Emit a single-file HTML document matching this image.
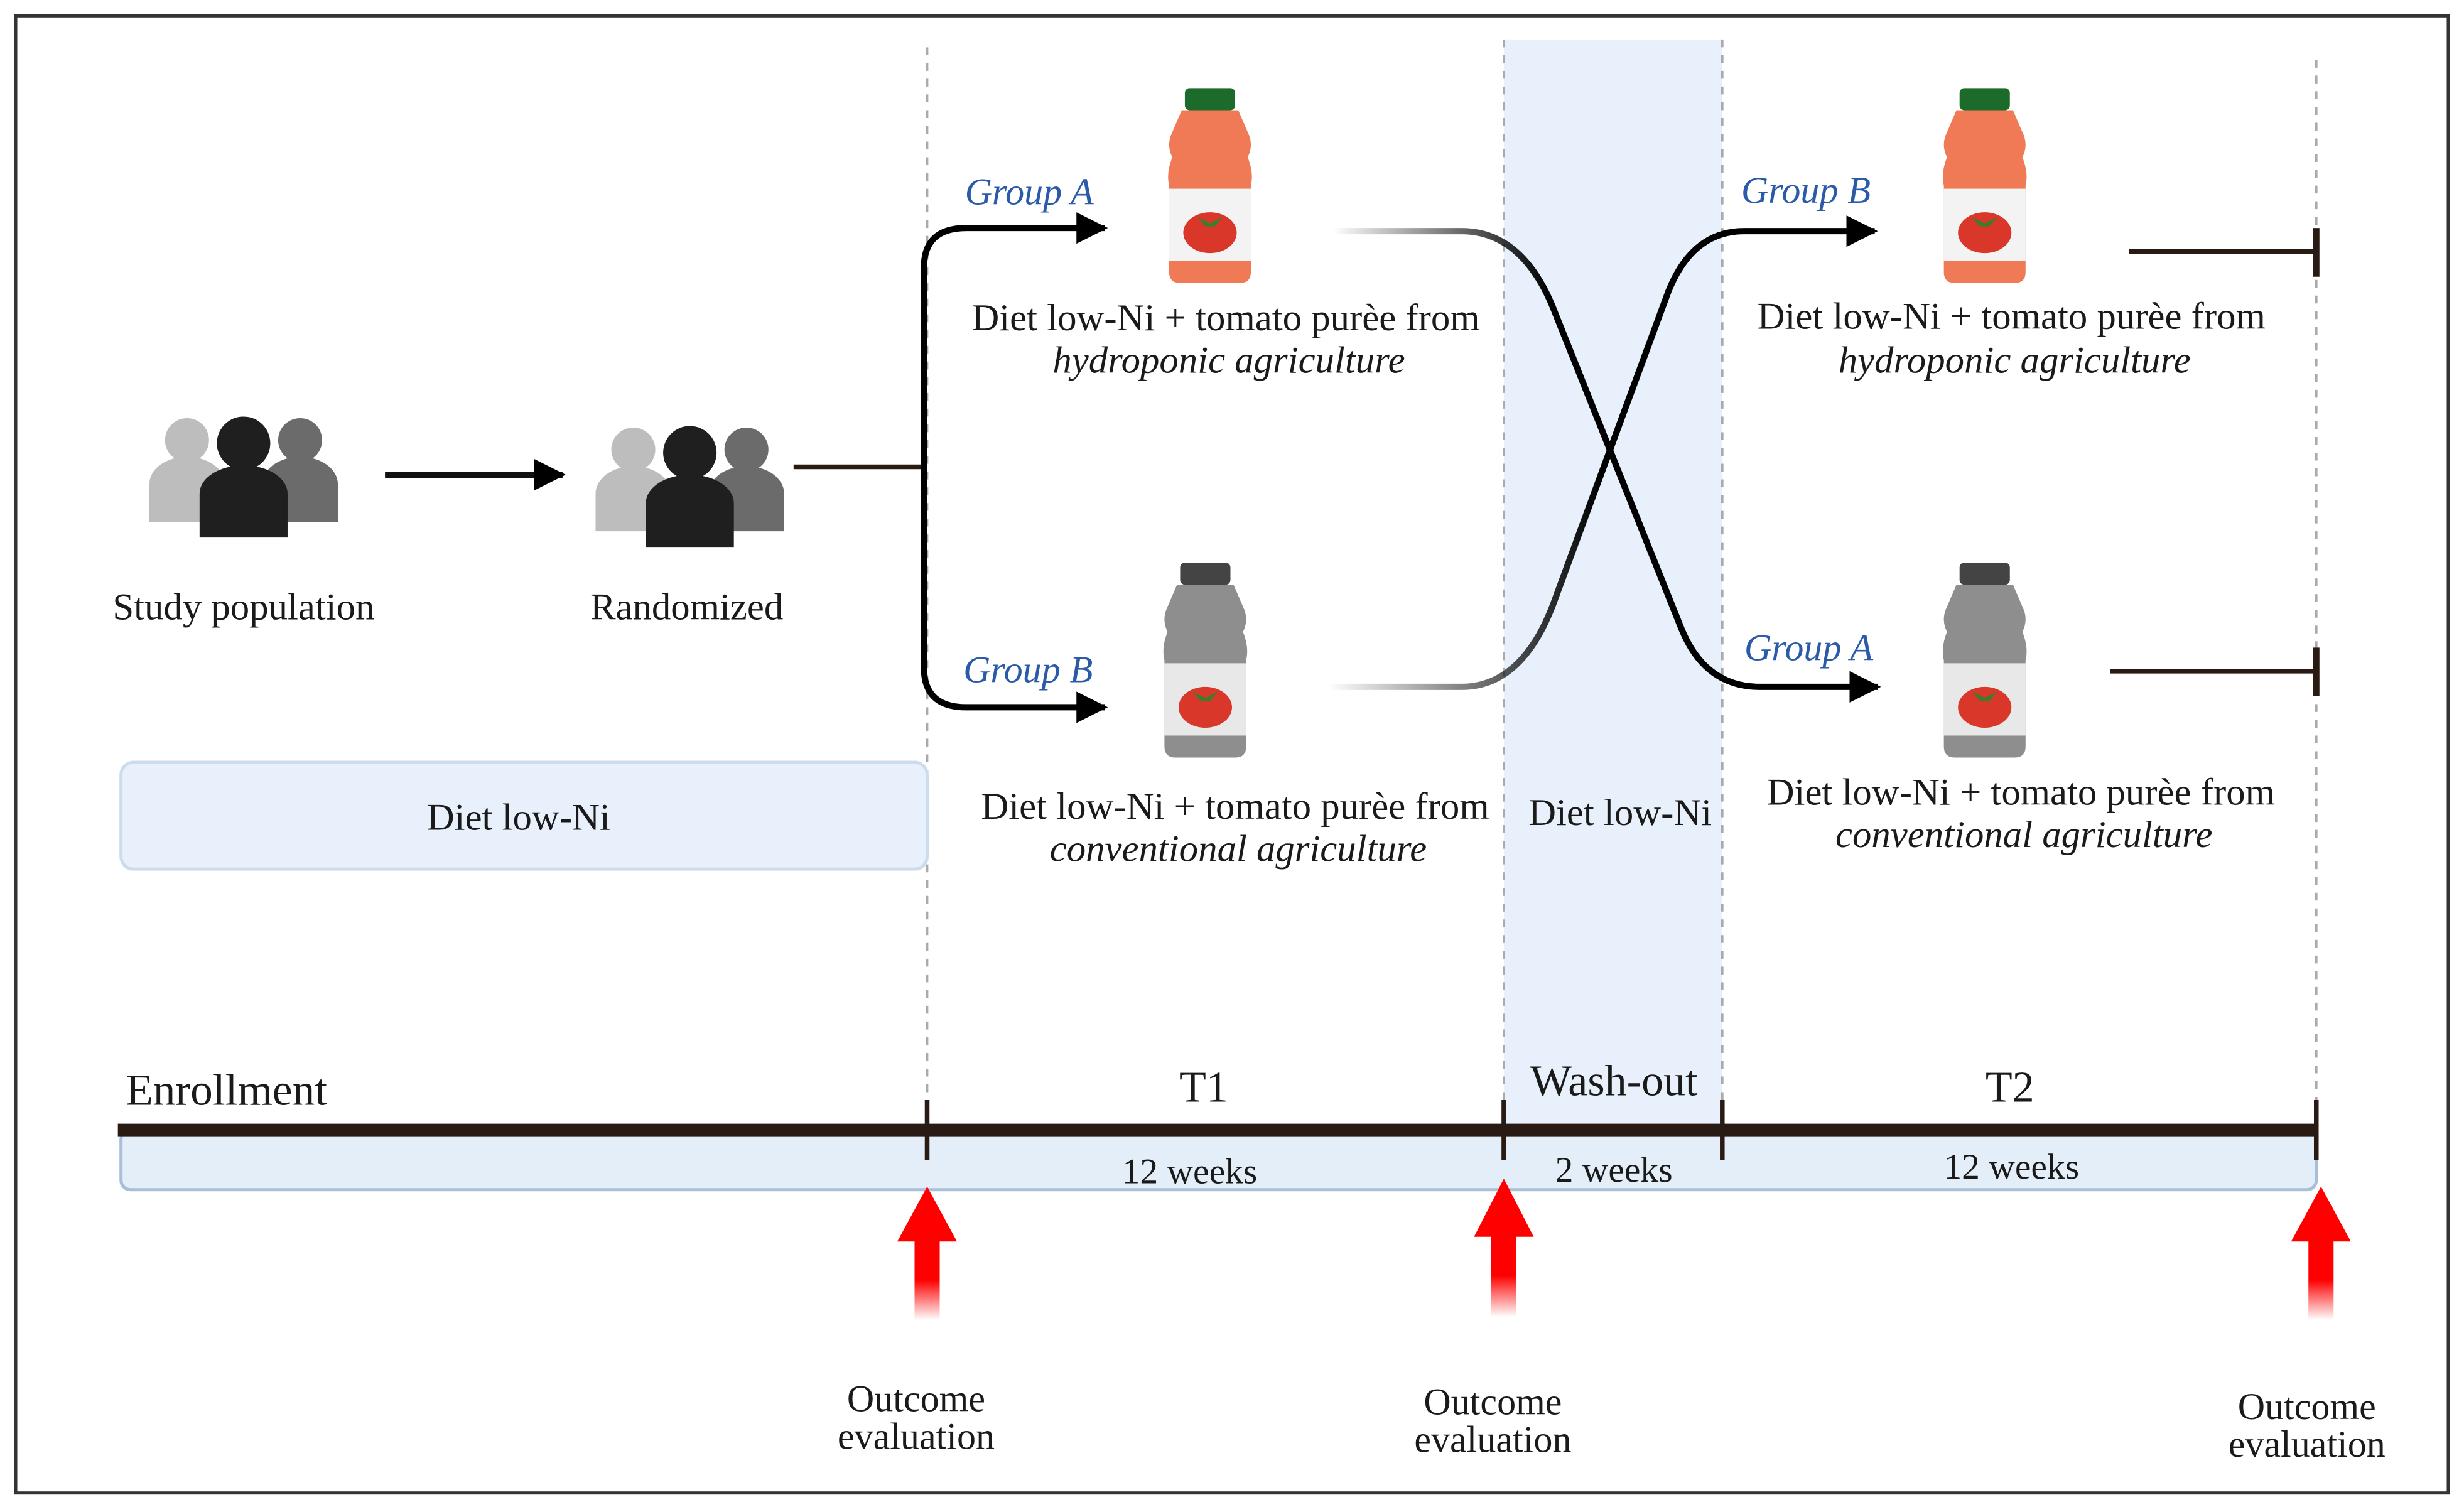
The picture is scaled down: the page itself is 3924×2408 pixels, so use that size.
<!DOCTYPE html>
<html><head><meta charset="utf-8"><style>
html,body{margin:0;padding:0;background:#fff;}
svg{display:block;}
text{font-family:"Liberation Serif",serif;fill:#1a1a1a;}
.g{fill:#2b5ba8;font-style:italic;font-size:24px;}
.t{font-size:24.3px;}
.i{font-size:24.3px;font-style:italic;}
</style></head><body>
<svg width="3924" height="2408" viewBox="0 0 1568 962" xmlns="http://www.w3.org/2000/svg">
<defs>
<linearGradient id="red" x1="0" y1="0" x2="0" y2="1"><stop offset="0" stop-color="#f00"/><stop offset="0.7" stop-color="#f00"/><stop offset="1" stop-color="#f00" stop-opacity="0"/></linearGradient>
<linearGradient id="fade1" x1="0" y1="0" x2="1" y2="0"><stop offset="0" stop-color="#000" stop-opacity="0"/><stop offset="0.4" stop-color="#000"/></linearGradient>
<linearGradient id="fade2" x1="0" y1="0" x2="1" y2="0"><stop offset="0" stop-color="#000" stop-opacity="0"/><stop offset="0.5" stop-color="#000"/></linearGradient>
<marker id="ah" viewBox="0 0 10 10" refX="9" refY="5" markerWidth="5" markerHeight="5" orient="auto"><path d="M0,0L10,5L0,10z" fill="#000"/></marker>
<g id="ppl">
<circle cx="-36" cy="-20" r="14" fill="#bdbdbd"/><path d="M-60,32 V8 a22,16 0 0 1 48,0 V32z" fill="#bdbdbd"/>
<circle cx="36" cy="-20" r="14" fill="#6b6b6b"/><path d="M12,32 V8 a22,16 0 0 1 48,0 V32z" fill="#6b6b6b"/>
<circle cx="0" cy="-18" r="17" fill="#1f1f1f"/><path d="M-28,42 V14 a28,18 0 0 1 56,0 V42z" fill="#1f1f1f"/>
</g>
<g id="tom"><ellipse cx="0" cy="0" rx="17" ry="13" fill="#d9372a"/><path d="M-8,-10 L0,-6 L8,-10 L3,-4 L-3,-4z" fill="#3a7d2a"/></g>
</defs>
<rect x="10" y="10" width="1548" height="940" fill="#fff" stroke="#333" stroke-width="2"/>
<rect x="957" y="25" width="139" height="695" fill="#e8f1fb"/>
<g stroke="#aaa" stroke-width="1.5" stroke-dasharray="5,5">
<line x1="590" y1="30" x2="590" y2="720"/><line x1="957" y1="25" x2="957" y2="720"/><line x1="1096" y1="25" x2="1096" y2="720"/><line x1="1474" y1="38" x2="1474" y2="715"/>
</g>
<rect x="77" y="485" width="513" height="68" rx="8" fill="#e8f1fb" stroke="#cddcec" stroke-width="2"/>
<text x="330" y="528" class="t" text-anchor="middle">Diet low-Ni</text>
<text x="1031" y="525" class="t" text-anchor="middle">Diet low-Ni</text>
<rect x="77" y="719" width="1397" height="38" rx="6" fill="#e3eef9" stroke="#a9bfd8" stroke-width="2"/>
<line x1="75" y1="719" x2="1474" y2="719" stroke="#2a1a14" stroke-width="8"/>
<g stroke="#2a1a14" stroke-width="3"><line x1="590" y1="700" x2="590" y2="738"/><line x1="957" y1="700" x2="957" y2="738"/><line x1="1096" y1="700" x2="1096" y2="738"/><line x1="1474" y1="700" x2="1474" y2="738"/></g>
<text x="80" y="703" font-size="28.5">Enrollment</text>
<text x="766" y="701" font-size="28" text-anchor="middle">T1</text>
<text x="1027" y="697" font-size="28" text-anchor="middle">Wash-out</text>
<text x="1279" y="701" font-size="28" text-anchor="middle">T2</text>
<text x="757" y="753" font-size="23" text-anchor="middle">12 weeks</text>
<text x="1027" y="752" font-size="23" text-anchor="middle">2 weeks</text>
<text x="1280" y="750" font-size="23" text-anchor="middle">12 weeks</text>
<g fill="url(#red)">
<path d="M590,755 L609,790 L598,790 L598,840 L582,840 L582,790 L571,790z"/>
<path d="M957,750 L976,787 L965,787 L965,838 L949,838 L949,787 L938,787z"/>
<path d="M1477,755 L1496,790 L1485,790 L1485,840 L1469,840 L1469,790 L1458,790z"/>
</g>
<g font-size="24" text-anchor="middle">
<text x="583" y="898">Outcome</text><text x="583" y="922">evaluation</text>
<text x="950" y="900">Outcome</text><text x="950" y="924">evaluation</text>
<text x="1468" y="903">Outcome</text><text x="1468" y="927">evaluation</text>
</g>
<use href="#ppl" x="155" y="300"/>
<use href="#ppl" x="439" y="306"/>
<text x="155" y="394" class="t" text-anchor="middle">Study population</text>
<text x="437" y="394" class="t" text-anchor="middle">Randomized</text>
<line x1="245" y1="302" x2="358" y2="302" stroke="#111" stroke-width="4" marker-end="url(#ah)"/>
<line x1="505" y1="297" x2="588" y2="297" stroke="#2a1a14" stroke-width="3"/>
<path d="M588,297 V170 Q588,145 615,145 H703" fill="none" stroke="#000" stroke-width="4" marker-end="url(#ah)"/>
<path d="M588,297 V425 Q588,450 615,450 H703" fill="none" stroke="#000" stroke-width="4" marker-end="url(#ah)"/>
<path d="M848,147 H930 Q970,147 990,200 L1070,400 Q1085,437 1120,437 H1195" fill="none" stroke="url(#fade1)" stroke-width="4" marker-end="url(#ah)"/>
<path d="M845,437 H930 Q970,437 990,380 L1060,190 Q1075,147 1110,147 H1193" fill="none" stroke="url(#fade2)" stroke-width="4" marker-end="url(#ah)"/>
<line x1="1355" y1="160" x2="1474" y2="160" stroke="#2a1a14" stroke-width="3"/><line x1="1474" y1="145" x2="1474" y2="176" stroke="#2a1a14" stroke-width="4"/>
<line x1="1343" y1="427" x2="1474" y2="427" stroke="#2a1a14" stroke-width="3"/><line x1="1474" y1="412" x2="1474" y2="443" stroke="#2a1a14" stroke-width="4"/>
<text x="614" y="130" class="g">Group A</text>
<text x="613" y="434" class="g">Group B</text>
<text x="1108" y="129" class="g">Group B</text>
<text x="1110" y="420" class="g">Group A</text>
<g transform="translate(770,118)">
<rect x="-16" y="-62" width="32" height="14" rx="3" fill="#1d6b2a"/>
<path d="M-18,-48 H18 L24,-34 Q28,-26 24,-18 Q28,-8 26,0 V55 Q26,62 19,62 H-19 Q-26,62 -26,55 V0 Q-28,-8 -24,-18 Q-28,-26 -24,-34z" fill="#f07a55"/>
<rect x="-26" y="2" width="52" height="46" fill="#f3f3f3"/>
<use href="#tom" x="0" y="30"/>
</g>
<g transform="translate(1263,118)">
<rect x="-16" y="-62" width="32" height="14" rx="3" fill="#1d6b2a"/>
<path d="M-18,-48 H18 L24,-34 Q28,-26 24,-18 Q28,-8 26,0 V55 Q26,62 19,62 H-19 Q-26,62 -26,55 V0 Q-28,-8 -24,-18 Q-28,-26 -24,-34z" fill="#f07a55"/>
<rect x="-26" y="2" width="52" height="46" fill="#f3f3f3"/>
<use href="#tom" x="0" y="30"/>
</g>
<g transform="translate(767,420)">
<rect x="-16" y="-62" width="32" height="14" rx="3" fill="#444"/>
<path d="M-18,-48 H18 L24,-34 Q28,-26 24,-18 Q28,-8 26,0 V55 Q26,62 19,62 H-19 Q-26,62 -26,55 V0 Q-28,-8 -24,-18 Q-28,-26 -24,-34z" fill="#8e8e8e"/>
<rect x="-26" y="2" width="52" height="46" fill="#e8e8e8"/>
<use href="#tom" x="0" y="30"/>
</g>
<g transform="translate(1263,420)">
<rect x="-16" y="-62" width="32" height="14" rx="3" fill="#444"/>
<path d="M-18,-48 H18 L24,-34 Q28,-26 24,-18 Q28,-8 26,0 V55 Q26,62 19,62 H-19 Q-26,62 -26,55 V0 Q-28,-8 -24,-18 Q-28,-26 -24,-34z" fill="#8e8e8e"/>
<rect x="-26" y="2" width="52" height="46" fill="#e8e8e8"/>
<use href="#tom" x="0" y="30"/>
</g>
<g text-anchor="middle">
<text x="780" y="210" class="t">Diet low-Ni + tomato purèe from</text>
<text x="782" y="237" class="i">hydroponic agriculture</text>
<text x="786" y="521" class="t">Diet low-Ni + tomato purèe from</text>
<text x="788" y="548" class="i">conventional agriculture</text>
<text x="1280" y="209" class="t">Diet low-Ni + tomato purèe from</text>
<text x="1282" y="237" class="i">hydroponic agriculture</text>
<text x="1286" y="512" class="t">Diet low-Ni + tomato purèe from</text>
<text x="1288" y="539" class="i">conventional agriculture</text>
</g>
</svg>
</body></html>
